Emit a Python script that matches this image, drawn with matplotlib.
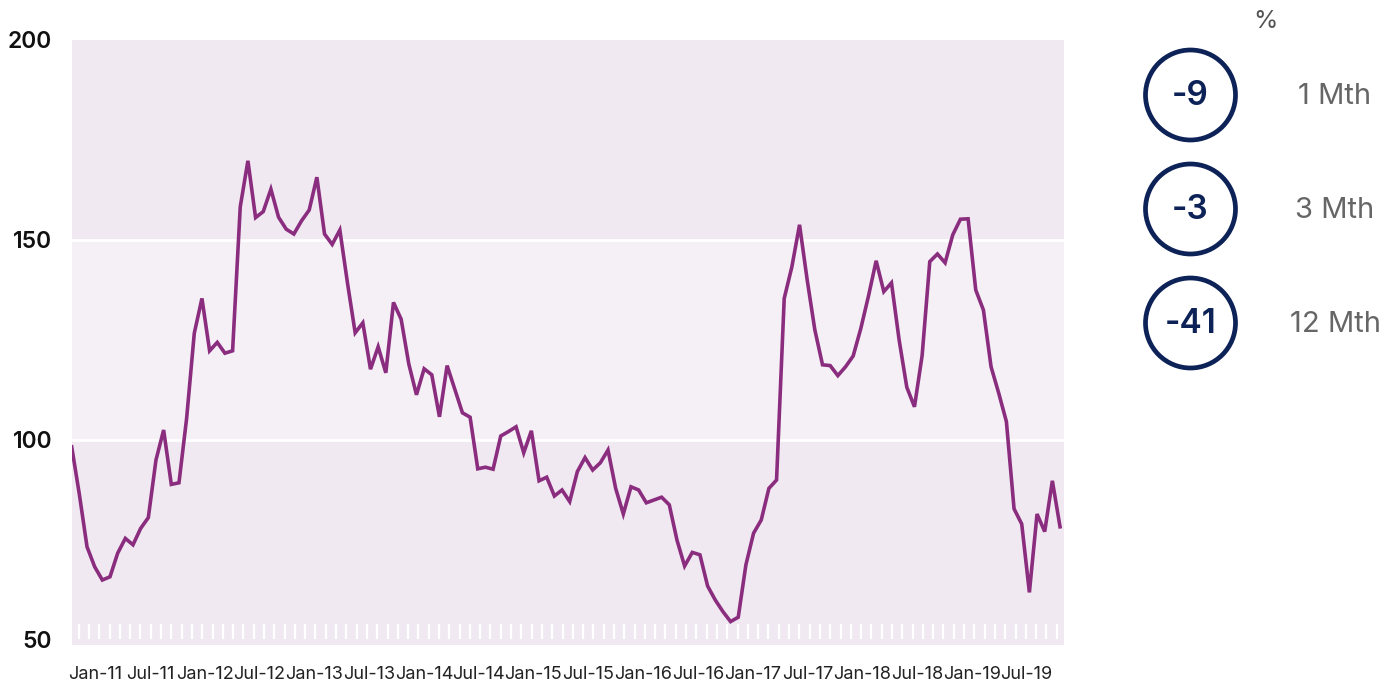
import matplotlib
matplotlib.use("Agg")
import matplotlib.pyplot as plt
import numpy as np
from matplotlib.patches import Circle

plt.rcParams['font.family'] = ['Inter', 'DejaVu Sans']

# index values (130 points, Oct-10 .. Oct-19)
values = [98.3, 86.4, 73.3, 68.3, 65.0, 65.8, 71.7, 75.4, 73.8, 77.9,
          80.6, 95.0, 102.5, 88.9, 89.3, 105.4, 126.7, 135.4, 122.3, 124.4,
          121.7, 122.3, 158.3, 169.8, 155.6, 157.1, 162.7, 155.7, 152.7, 151.5,
          154.8, 157.5, 165.7, 151.5, 148.9, 152.5, 139.2, 126.8, 129.3, 117.7,
          123.3, 116.8, 134.4, 130.2, 119.0, 111.3, 117.8, 116.3, 105.8, 118.6,
          112.7, 106.8, 105.7, 92.8, 93.2, 92.7, 101.0, 102.1, 103.3, 96.8,
          102.3, 89.8, 90.7, 86.0, 87.5, 84.6, 92.1, 95.6, 92.5, 94.3,
          97.5, 87.9, 81.5, 88.3, 87.5, 84.3, 85.0, 85.7, 83.8, 75.0,
          68.5, 71.9, 71.3, 63.5, 60.0, 57.1, 54.6, 55.7, 68.8, 76.7,
          80.0, 87.9, 90.0, 135.4, 143.3, 153.8, 140.0, 127.5, 118.8, 118.6,
          116.1, 118.3, 121.0, 127.9, 136.0, 144.8, 137.1, 139.3, 125.0, 113.2,
          108.3, 121.1, 144.6, 146.5, 144.3, 151.3, 155.2, 155.3, 137.5, 132.5,
          118.3, 111.7, 104.6, 82.8, 79.0, 61.9, 81.5, 77.1, 89.8, 78.3]

start_year = 2010.787
end_year = 2019.805
t = np.linspace(start_year, end_year, len(values))

label_years = np.arange(2011, 2020, 0.5)
label_text = [('Jan-' if y % 1 == 0 else 'Jul-') + str(int(y))[2:] for y in label_years]

changes = ['-9', '-3', '-41']
periods = ['1 Mth', '3 Mth', '12 Mth']

purple = '#8b2d7e'
navy = '#0d2257'
band_dark = '#f0e9f2'
band_light = '#f4f0f6'

fig = plt.figure(figsize=(13.98, 6.88), dpi=100)
ax = fig.add_axes([71.7 / 1398, 43 / 688, 992.6 / 1398, 605 / 688])

ax.set_facecolor(band_dark)
ax.axhspan(100, 150, color=band_light, zorder=0)
for g in [100, 150]:
    ax.axhline(g, color='white', lw=2, zorder=1)

ax.plot(t, values, color=purple, lw=2.6, solid_joinstyle='miter', zorder=3)

ax.set_xlim(t[0], t[-1] + 0.039)
ax.set_ylim(48.75, 200)
ax.set_yticks([50, 100, 150, 200])
ax.tick_params(axis='y', length=0, pad=14, labelsize=16.5, labelcolor='#111111')
for lab in ax.get_yticklabels():
    lab.set_fontweight('semibold')
ax.set_xticks(label_years)
ax.set_xticklabels(label_text)
ax.tick_params(axis='x', length=0, pad=15, labelsize=13, labelcolor='#222222')
for s in ax.spines.values():
    s.set_visible(False)

# small white marks along the bottom
marks = np.linspace(7 / 992.6, 985 / 992.6, 96)
ax.vlines(marks, 0.01, 0.035, transform=ax.transAxes, color='white', lw=1.6, zorder=2)

# right-hand panel in pixel coordinates
ov = fig.add_axes([0, 0, 1, 1], facecolor='none')
ov.set_xlim(0, 1398)
ov.set_ylim(688, 0)
ov.axis('off')
ov.text(1265, 21, '%', ha='center', va='center', fontsize=18, color='#555555')
for i, (c, p) in enumerate(zip(changes, periods)):
    cy = 95 + i * 114
    ov.add_patch(Circle((1190.5, cy), 45, fill=False, ec=navy, lw=3.4))
    ov.text(1190.5, cy + 1, c, ha='center', va='center', fontsize=24,
            color=navy, fontweight='semibold')
    ov.text(1335, cy + 2, p, ha='center', va='center', fontsize=21, color='#666666')

fig.savefig('out.png', dpi=100)
